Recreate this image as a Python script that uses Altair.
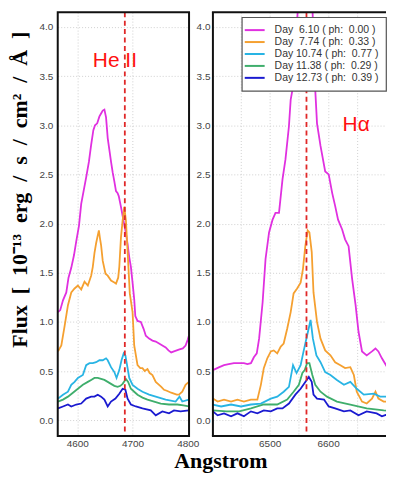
import altair as alt
import pandas as pd

# ---------------- data ----------------
series_labels = [
    "Day\u00a0\u00a06.10\u00a0(\u00a0ph:\u00a0\u00a00.00\u00a0)",
    "Day\u00a0\u00a07.74\u00a0(\u00a0ph:\u00a0\u00a00.33\u00a0)",
    "Day\u00a010.74\u00a0(\u00a0ph:\u00a0\u00a00.77\u00a0)",
    "Day\u00a011.38\u00a0(\u00a0ph:\u00a0\u00a00.29\u00a0)",
    "Day\u00a012.73\u00a0(\u00a0ph:\u00a0\u00a00.39\u00a0)",
]
series_colors = ["#e030e0", "#f5a030", "#28b4e4", "#3fae6c", "#1a1ad0"]

# He II panel
he_mag_wl = [4565, 4569, 4574, 4580, 4584, 4589, 4594, 4598, 4603, 4607, 4612, 4616, 4621, 4625, 4629, 4632, 4636, 4640, 4643, 4646, 4649, 4652, 4655, 4658, 4661, 4664, 4667, 4670, 4673, 4675, 4679, 4682, 4685, 4688, 4691, 4694, 4697, 4700, 4703, 4705, 4709, 4715, 4720, 4724, 4730, 4736, 4742, 4748, 4754, 4760, 4765, 4770, 4775, 4780, 4785, 4791, 4796, 4800, 4802]
he_mag_fx = [1.10, 1.12, 1.22, 1.30, 1.45, 1.55, 1.68, 1.82, 1.98, 2.20, 2.35, 2.47, 2.63, 2.80, 2.95, 3.00, 3.02, 3.09, 3.12, 3.15, 3.16, 3.08, 2.87, 2.75, 2.63, 2.52, 2.43, 2.33, 2.31, 2.28, 2.17, 2.08, 1.99, 1.90, 1.79, 1.66, 1.56, 1.40, 1.23, 1.06, 1.01, 1.00, 0.93, 0.86, 0.83, 0.81, 0.80, 0.78, 0.76, 0.74, 0.71, 0.69, 0.70, 0.71, 0.72, 0.73, 0.76, 0.82, 0.86]

he_ora_wl = [4565, 4571, 4577, 4583, 4589, 4595, 4601, 4607, 4613, 4619, 4625, 4628, 4631, 4634, 4637, 4639, 4641, 4643, 4646, 4651, 4655, 4661, 4667, 4670, 4674, 4676, 4679, 4682, 4685, 4688, 4691, 4695, 4700, 4703, 4709, 4714, 4718, 4722, 4727, 4731, 4736, 4742, 4748, 4752, 4757, 4762, 4766, 4770, 4775, 4780, 4784, 4790, 4796, 4802]
he_ora_fx = [0.70, 0.76, 0.96, 1.17, 1.30, 1.34, 1.37, 1.33, 1.41, 1.37, 1.47, 1.56, 1.70, 1.80, 1.88, 1.93, 1.85, 1.78, 1.62, 1.49, 1.47, 1.42, 1.40, 1.39, 1.45, 1.56, 1.86, 2.03, 2.17, 2.03, 1.72, 1.29, 1.10, 0.76, 0.56, 0.53, 0.53, 0.50, 0.52, 0.48, 0.46, 0.39, 0.36, 0.34, 0.31, 0.30, 0.29, 0.28, 0.27, 0.26, 0.26, 0.29, 0.36, 0.39]

he_cya_wl = [4565, 4574, 4583, 4589, 4595, 4601, 4610, 4616, 4622, 4628, 4634, 4640, 4646, 4652, 4655, 4661, 4667, 4671, 4676, 4680, 4684, 4687, 4691, 4694, 4700, 4709, 4718, 4730, 4742, 4760, 4778, 4785, 4790, 4802]
he_cya_fx = [0.22, 0.26, 0.29, 0.36, 0.39, 0.43, 0.46, 0.56, 0.58, 0.58, 0.59, 0.61, 0.61, 0.63, 0.61, 0.54, 0.49, 0.43, 0.51, 0.61, 0.68, 0.66, 0.53, 0.43, 0.36, 0.32, 0.29, 0.26, 0.24, 0.21, 0.19, 0.24, 0.19, 0.21]

he_gre_wl = [4565, 4574, 4583, 4592, 4601, 4610, 4619, 4625, 4631, 4637, 4643, 4649, 4655, 4661, 4667, 4673, 4678, 4682, 4688, 4692, 4697, 4703, 4709, 4718, 4727, 4739, 4751, 4766, 4781, 4792, 4802]
he_gre_fx = [0.19, 0.21, 0.24, 0.28, 0.32, 0.36, 0.39, 0.41, 0.43, 0.43, 0.42, 0.41, 0.39, 0.37, 0.35, 0.34, 0.35, 0.37, 0.42, 0.39, 0.32, 0.29, 0.26, 0.23, 0.21, 0.19, 0.17, 0.16, 0.16, 0.15, 0.14]

he_blu_wl = [4565, 4574, 4583, 4589, 4598, 4607, 4616, 4625, 4631, 4637, 4643, 4649, 4655, 4661, 4669, 4676, 4682, 4687, 4691, 4697, 4706, 4718, 4733, 4742, 4754, 4766, 4775, 4787, 4802]
he_blu_fx = [0.12, 0.14, 0.16, 0.14, 0.16, 0.17, 0.22, 0.24, 0.24, 0.26, 0.24, 0.21, 0.14, 0.19, 0.22, 0.27, 0.32, 0.31, 0.22, 0.16, 0.14, 0.12, 0.10, 0.05, 0.09, 0.07, 0.10, 0.09, 0.10]

# H-alpha panel
ha_mag_wl = [6403, 6414, 6422, 6430, 6439, 6448, 6456, 6462, 6468, 6473, 6478, 6482, 6488, 6493, 6499, 6505, 6510, 6516, 6522, 6527, 6533, 6536, 6539, 6545, 6552, 6563, 6572, 6578, 6581, 6587, 6595, 6601, 6607, 6612, 6617, 6624, 6629, 6635, 6641, 6647, 6652, 6658, 6666, 6675, 6681, 6686, 6692, 6701, 6712, 6720]
ha_mag_fx = [0.51, 0.54, 0.56, 0.57, 0.58, 0.58, 0.58, 0.57, 0.58, 0.64, 0.68, 0.83, 1.20, 1.64, 1.91, 2.04, 2.11, 2.11, 2.45, 2.65, 2.99, 3.26, 3.36, 3.90, 4.50, 5.00, 4.40, 3.36, 3.02, 2.79, 2.53, 2.50, 2.31, 2.18, 2.04, 1.94, 1.84, 1.77, 1.44, 1.17, 0.90, 0.70, 0.66, 0.70, 0.73, 0.70, 0.63, 0.54, 0.53, 0.52]

ha_ora_wl = [6403, 6411, 6422, 6434, 6445, 6456, 6468, 6479, 6485, 6490, 6496, 6502, 6507, 6513, 6519, 6524, 6530, 6536, 6541, 6547, 6553, 6557, 6561, 6565, 6568, 6572, 6575, 6581, 6587, 6595, 6604, 6612, 6621, 6629, 6638, 6644, 6649, 6658, 6666, 6675, 6681, 6686, 6695, 6706, 6715, 6720]
ha_ora_fx = [0.22, 0.19, 0.21, 0.19, 0.21, 0.19, 0.21, 0.21, 0.36, 0.53, 0.63, 0.70, 0.71, 0.68, 0.75, 0.78, 0.93, 1.10, 1.29, 1.34, 1.40, 1.54, 1.77, 1.93, 1.91, 1.71, 1.30, 1.00, 0.83, 0.71, 0.66, 0.59, 0.56, 0.53, 0.54, 0.46, 0.29, 0.19, 0.17, 0.22, 0.29, 0.22, 0.19, 0.19, 0.21, 0.20]

ha_cya_wl = [6403, 6417, 6434, 6451, 6468, 6485, 6502, 6513, 6524, 6533, 6540, 6546, 6553, 6558, 6564, 6570, 6574, 6580, 6587, 6595, 6604, 6615, 6627, 6638, 6649, 6661, 6678, 6689, 6700, 6712, 6720]
ha_cya_fx = [0.16, 0.14, 0.16, 0.14, 0.16, 0.17, 0.22, 0.24, 0.29, 0.34, 0.56, 0.48, 0.56, 0.70, 0.86, 1.02, 0.83, 0.66, 0.59, 0.49, 0.46, 0.41, 0.36, 0.39, 0.32, 0.26, 0.27, 0.24, 0.24, 0.22, 0.22]

ha_gre_wl = [6403, 6426, 6448, 6468, 6490, 6513, 6530, 6541, 6550, 6556, 6560, 6564, 6568, 6573, 6578, 6587, 6598, 6615, 6638, 6666, 6695, 6720]
ha_gre_fx = [0.10, 0.09, 0.09, 0.12, 0.16, 0.16, 0.21, 0.29, 0.36, 0.48, 0.51, 0.58, 0.58, 0.46, 0.36, 0.29, 0.24, 0.19, 0.16, 0.12, 0.10, 0.09]

ha_blu_wl = [6403, 6411, 6422, 6434, 6445, 6456, 6468, 6479, 6490, 6502, 6513, 6522, 6533, 6544, 6553, 6561, 6567, 6572, 6575, 6581, 6593, 6601, 6612, 6627, 6638, 6652, 6666, 6683, 6692, 6706, 6715, 6720]
ha_blu_fx = [0.09, 0.05, 0.07, 0.04, 0.07, 0.04, 0.09, 0.07, 0.10, 0.09, 0.12, 0.12, 0.17, 0.26, 0.32, 0.39, 0.44, 0.39, 0.26, 0.22, 0.21, 0.14, 0.12, 0.09, 0.10, 0.05, 0.09, 0.07, 0.04, 0.07, 0.05, 0.06]

he_line = [4686]
ha_line = [6563]
flux_ticks = [0.0, 0.5, 1.0, 1.5, 2.0, 2.5, 3.0, 3.5, 4.0]
he_x_ticks = [4600, 4650, 4700, 4750, 4800]
ha_x_ticks = [6450, 6500, 6550, 6600, 6650]

SERIF = "Liberation Serif, Times New Roman, Times, serif"
SANS = "Liberation Sans, Arial, Helvetica, sans-serif"


def build(wls, fxs):
    rows = []
    for lab, wl, fx in zip(series_labels, wls, fxs):
        for w, f in zip(wl, fx):
            rows.append({"wl": w, "flux": f, "series": lab})
    return pd.DataFrame(rows)


he_df = build([he_mag_wl, he_ora_wl, he_cya_wl, he_gre_wl, he_blu_wl],
              [he_mag_fx, he_ora_fx, he_cya_fx, he_gre_fx, he_blu_fx])
ha_df = build([ha_mag_wl, ha_ora_wl, ha_cya_wl, ha_gre_wl, ha_blu_wl],
              [ha_mag_fx, ha_ora_fx, ha_cya_fx, ha_gre_fx, ha_blu_fx])

Y_DOMAIN = [-0.16, 4.15]
PH = 426
color_scale = alt.Scale(domain=series_labels, range=series_colors)
NB = "\u00a0"
YTITLE = ("Flux" + NB * 2 + "[" + NB * 2 + "10\u207b\u00b9\u00b3" + NB * 2 + "erg" + NB * 2 + "/"
          + NB * 2 + "s" + NB * 2 + "/" + NB * 2 + "cm\u00b2" + NB * 2 + "/" + NB * 2
          + "\u00c5" + NB * 2 + "]")


def panel(df, xdom, xticks, line_wl, label, label_pos, width, first):
    if first:
        yaxis = alt.Axis(values=flux_ticks, format=".1f", grid=True, ticks=False,
                         domain=False, labelPadding=5, title=YTITLE,
                         titleFont=SERIF, titleFontSize=22,
                         titleFontWeight="bold", titleColor="#000",
                         titleX=-31, titleY=178, titleBaseline="alphabetic",
                         titleAngle=270)
    else:
        yaxis = alt.Axis(values=flux_ticks, format=".1f", grid=True, ticks=False,
                         domain=False, labelPadding=3, title=None)
    lines = alt.Chart(df).mark_line(strokeWidth=1.8, clip=True).encode(
        x=alt.X("wl:Q", scale=alt.Scale(domain=xdom, nice=False, zero=False),
                axis=alt.Axis(values=xticks, grid=True, ticks=False, domain=False,
                              labelExpr="datum.value % 100 == 0 ? datum.label : ''",
                              labelOverlap=False, format="d", labelPadding=3,
                              title=None)),
        y=alt.Y("flux:Q", scale=alt.Scale(domain=Y_DOMAIN, nice=False, zero=False),
                axis=yaxis),
        color=alt.Color("series:N", scale=color_scale, sort=series_labels,
                        legend=alt.Legend(title=None, orient="none", legendX=185,
                                          legendY=5, symbolType="M-2,0L2,0",
                                          symbolSize=100, symbolStrokeWidth=2,
                                          labelFont=SANS,
                                          labelFontSize=10.5, labelColor="#333",
                                          rowPadding=0, padding=7,
                                          strokeColor="#555", fillColor="white",
                                          labelOffset=14)),
        detail="series:N",
    )
    rule = alt.Chart(pd.DataFrame({"wl": line_wl})).mark_rule(
        color="#e02828", strokeDash=[5, 3.5], strokeWidth=1.8).encode(x="wl:Q")
    txt = alt.Chart(pd.DataFrame({"wl": [label_pos[0]], "flux": [label_pos[1]],
                                  "t": [label]})).mark_text(
        color="#ff1010", font=SANS, fontSize=21, align="center",
        baseline="middle").encode(x="wl:Q", y="flux:Q", text="t:N")
    frame_style = dict(color="#111", strokeWidth=2)
    if first:
        frame = [alt.Chart(pd.DataFrame({"k": [0]})).mark_rect(
            fillOpacity=0, stroke="#111", strokeWidth=2).encode(
            x=alt.value(0), x2=alt.value(width), y=alt.value(0), y2=alt.value(PH))]
    else:
        frame = [
            alt.Chart(pd.DataFrame({"k": [0]})).mark_rule(**frame_style).encode(
                x=alt.value(0), y=alt.value(0), y2=alt.value(PH)),
            alt.Chart(pd.DataFrame({"k": [0]})).mark_rule(**frame_style).encode(
                x=alt.value(-1), x2=alt.value(width), y=alt.value(0)),
            alt.Chart(pd.DataFrame({"k": [0]})).mark_rule(**frame_style).encode(
                x=alt.value(-1), x2=alt.value(width), y=alt.value(PH)),
        ]
    return alt.layer(lines, rule, txt, *frame).properties(width=width, height=PH)


left = panel(he_df, [4564.5, 4802.3], he_x_ticks, he_line, "He II", (4668, 3.65), 132, True)
right = panel(ha_df, [6403, 6699], ha_x_ticks, ha_line, "H\u03b1", (6648, 3.0), 174, False)

chart = alt.hconcat(left, right, spacing=24, bounds="flush").properties(
    title=alt.TitleParams("Angstrom", orient="bottom", anchor="middle",
                          font=SERIF, fontSize=22, fontWeight="bold",
                          color="#000", offset=2, dx=23),
    padding={"left": 0, "top": 2, "right": 0, "bottom": 0},
).configure_view(stroke=None).configure_axis(
    labelFont=SANS, labelFontSize=10, labelColor="#444",
    gridColor="#d0d0d0", gridDash=[1, 2], gridWidth=1,
).configure_legend(cornerRadius=0, strokeWidth=1.2)

chart.save("out.html", embed_options={"renderer": "svg", "actions": False})
